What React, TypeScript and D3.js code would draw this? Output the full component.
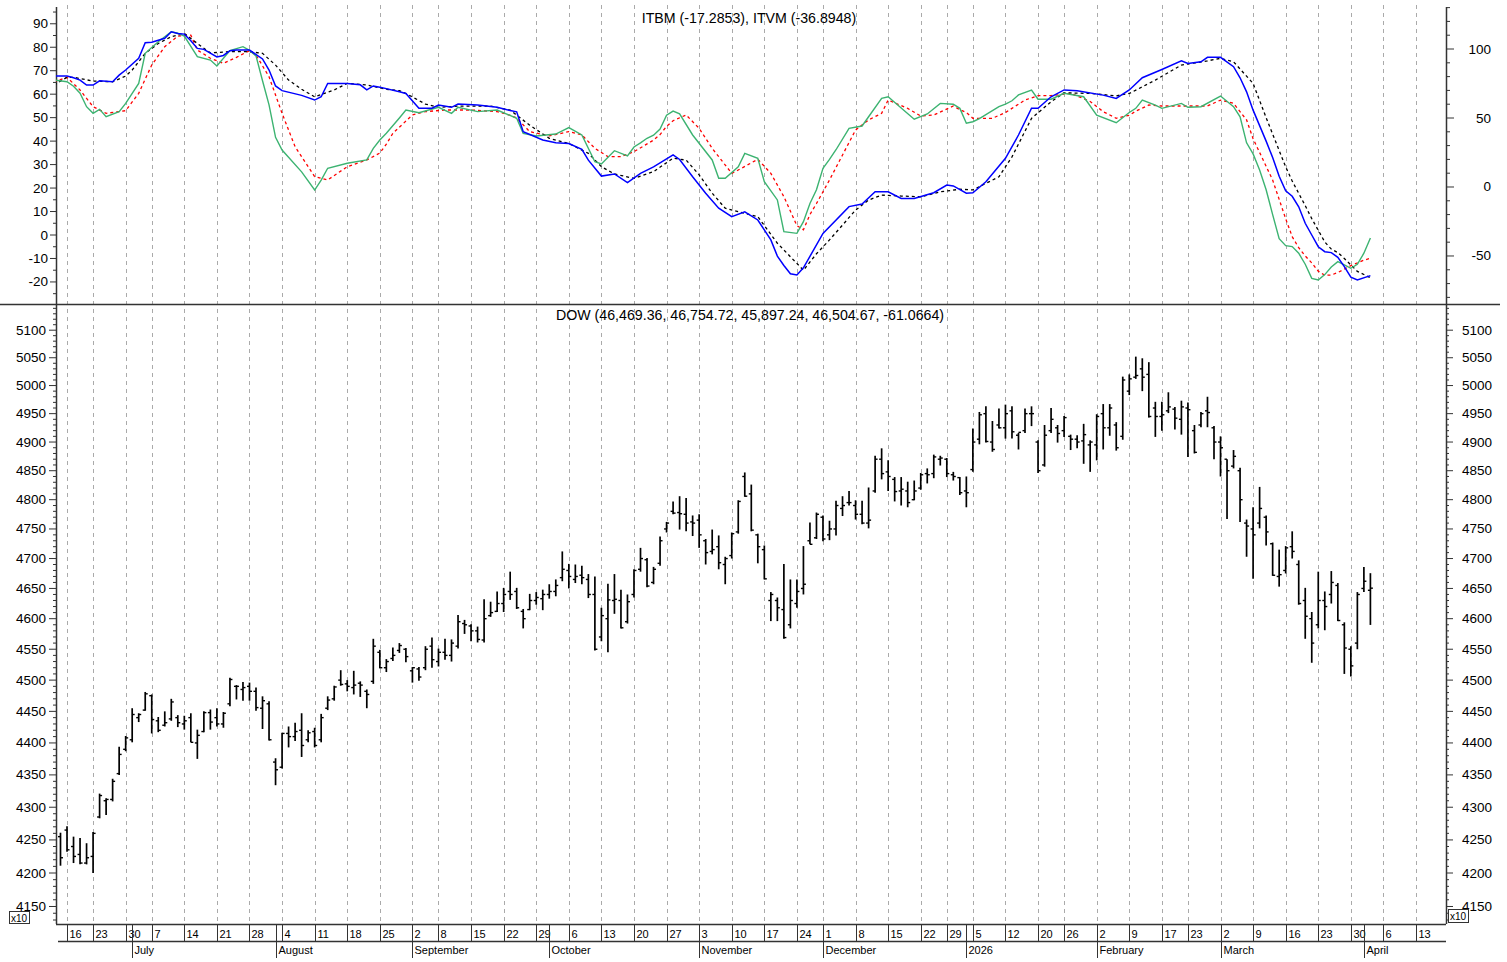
import * as d3 from 'd3';

// DOW daily bars (values shown x10), trading-day index -1 (Jun 13 2025) .. 200 (Apr 2 2026)
const FIRST_BAR = -1;

const opens = [
  4255, 4265, 4240, 4228, 4215, 4225, 4285, 4310, 4312, 4352, 4390, 4405, 4440, 4452, 4475, 4435, 4428, 4438, 4440, 4430,
  4440, 4400, 4418, 4448, 4440, 4430, 4462, 4490, 4485, 4490, 4482, 4455, 4462, 4370, 4362, 4415, 4410, 4420, 4405, 4418,
  4405, 4455, 4470, 4500, 4494, 4488, 4495, 4482, 4498, 4545, 4520, 4535, 4548, 4550, 4515, 4518, 4520, 4555, 4530, 4545,
  4540, 4555, 4592, 4588, 4580, 4565, 4605, 4612, 4625, 4645, 4645, 4612, 4615, 4630, 4633, 4640, 4645, 4668, 4680, 4665,
  4672, 4665, 4640, 4570, 4600, 4630, 4630, 4595, 4640, 4682, 4698, 4660, 4692, 4750, 4780, 4778, 4775, 4762, 4765, 4730,
  4712, 4720, 4690, 4705, 4745, 4840, 4810, 4740, 4715, 4630, 4630, 4615, 4590, 4625, 4650, 4730, 4735, 4770, 4740, 4750,
  4785, 4795, 4790, 4775, 4760, 4815, 4870, 4848, 4835, 4815, 4815, 4800, 4820, 4845, 4845, 4870, 4870, 4843, 4838, 4815,
  4852, 4905, 4950, 4900, 4930, 4925, 4955, 4912, 4920, 4950, 4900, 4860, 4920, 4925, 4920, 4910, 4905, 4902, 4895, 4895,
  4950, 4925, 4930, 4910, 4990, 5015, 5030, 5020, 4960, 4945, 4955, 4958, 4940, 4960, 4920, 4930, 4955, 4925, 4900, 4870,
  4858, 4850, 4760, 4750, 4760, 4770, 4725, 4670, 4680, 4720, 4690, 4630, 4600, 4590, 4630, 4640, 4655, 4590, 4550, 4560,
  4650, 4646.94,
];

const highs = [
  4261, 4271, 4255, 4253, 4245, 4262, 4321, 4314, 4344, 4394, 4411, 4455, 4447, 4481, 4477, 4441, 4450, 4470, 4444, 4443,
  4447, 4421, 4450, 4453, 4455, 4449, 4504, 4492, 4497, 4496, 4488, 4474, 4466, 4376, 4416, 4426, 4432, 4447, 4420, 4424,
  4446, 4474, 4491, 4516, 4500, 4515, 4498, 4485, 4567, 4549, 4534, 4553, 4560, 4552, 4521, 4521, 4555, 4569, 4551, 4567,
  4566, 4606, 4598, 4591, 4587, 4632, 4628, 4645, 4651, 4678, 4651, 4616, 4641, 4644, 4648, 4657, 4665, 4712, 4691, 4690,
  4688, 4674, 4670, 4618, 4658, 4674, 4648, 4640, 4682, 4718, 4701, 4686, 4737, 4762, 4797, 4806, 4803, 4773, 4775, 4733,
  4749, 4739, 4703, 4744, 4799, 4847, 4826, 4742, 4722, 4644, 4635, 4691, 4665, 4665, 4721, 4761, 4778, 4773, 4764, 4798,
  4806, 4815, 4799, 4798, 4821, 4876, 4889, 4868, 4839, 4839, 4831, 4833, 4846, 4854, 4878, 4876, 4872, 4848, 4839, 4840,
  4924, 4953, 4963, 4937, 4959, 4966, 4963, 4916, 4959, 4963, 4903, 4930, 4960, 4930, 4946, 4913, 4912, 4932, 4903, 4949,
  4967, 4967, 4935, 5016, 5020, 5052, 5049, 5042, 4971, 4971, 4988, 4962, 4973, 4970, 4930, 4953, 4980, 4928, 4910, 4870,
  4886, 4855, 4766, 4787, 4822, 4773, 4727, 4715, 4721, 4746, 4697, 4651, 4611, 4678, 4645, 4679, 4659, 4594, 4555, 4644,
  4686, 4675.47,
];

const lows = [
  4211, 4232, 4215, 4213, 4213, 4200, 4283, 4288, 4309, 4350, 4387, 4401, 4433, 4451, 4415, 4417, 4426, 4435, 4425, 4421,
  4401, 4375, 4417, 4421, 4426, 4424, 4458, 4469, 4467, 4467, 4451, 4422, 4404, 4334, 4360, 4393, 4403, 4378, 4401, 4393,
  4401, 4452, 4467, 4491, 4482, 4477, 4473, 4455, 4494, 4519, 4513, 4531, 4544, 4529, 4496, 4499, 4516, 4520, 4522, 4533,
  4530, 4551, 4575, 4563, 4561, 4561, 4603, 4611, 4611, 4631, 4616, 4584, 4614, 4623, 4614, 4633, 4637, 4662, 4650, 4659,
  4657, 4634, 4548, 4563, 4545, 4608, 4584, 4592, 4635, 4678, 4652, 4657, 4688, 4744, 4775, 4749, 4746, 4738, 4718, 4690,
  4707, 4682, 4657, 4700, 4742, 4805, 4746, 4692, 4665, 4596, 4596, 4567, 4584, 4618, 4640, 4724, 4733, 4729, 4731, 4739,
  4772, 4790, 4766, 4758, 4751, 4812, 4835, 4815, 4797, 4790, 4787, 4799, 4817, 4828, 4837, 4859, 4839, 4833, 4808, 4787,
  4848, 4896, 4899, 4883, 4924, 4906, 4906, 4887, 4916, 4928, 4846, 4857, 4916, 4899, 4909, 4886, 4889, 4862, 4848, 4868,
  4887, 4911, 4885, 4904, 4983, 5012, 4990, 4943, 4909, 4920, 4951, 4922, 4913, 4874, 4880, 4926, 4926, 4870, 4840, 4767,
  4854, 4762, 4703, 4666, 4751, 4722, 4671, 4653, 4675, 4700, 4623, 4567, 4528, 4584, 4581, 4625, 4596, 4510, 4506, 4550,
  4644, 4589.72,
];

const closes = [
  4223, 4235, 4225, 4215, 4223, 4260, 4318, 4312, 4340, 4382, 4408, 4445, 4445, 4478, 4437, 4420, 4432, 4465, 4432, 4435,
  4401, 4412, 4448, 4433, 4430, 4447, 4501, 4490, 4488, 4482, 4456, 4467, 4405, 4358, 4415, 4410, 4418, 4396, 4416, 4396,
  4440, 4468, 4489, 4493, 4490, 4492, 4492, 4477, 4555, 4520, 4530, 4540, 4556, 4538, 4520, 4505, 4550, 4533, 4545, 4540,
  4560, 4595, 4590, 4580, 4566, 4600, 4610, 4625, 4640, 4640, 4618, 4600, 4630, 4635, 4640, 4645, 4655, 4682, 4670, 4670,
  4668, 4640, 4550, 4605, 4631, 4632, 4585, 4628, 4680, 4700, 4654, 4682, 4730, 4760, 4777, 4776, 4760, 4760, 4740, 4710,
  4715, 4693, 4700, 4742, 4797, 4806, 4748, 4720, 4666, 4640, 4618, 4569, 4630, 4645, 4657, 4724, 4775, 4733, 4750, 4790,
  4790, 4795, 4775, 4760, 4765, 4870, 4845, 4840, 4814, 4818, 4795, 4815, 4843, 4843, 4874, 4872, 4845, 4840, 4812, 4812,
  4900, 4948, 4901, 4887, 4925, 4950, 4918, 4917, 4950, 4950, 4850, 4912, 4940, 4915, 4943, 4905, 4900, 4913, 4900, 4945,
  4925, 4960, 4890, 5010, 5012, 5018, 5015, 4945, 4945, 4948, 4962, 4942, 4962, 4957, 4882, 4950, 4952, 4900, 4890, 4850,
  4875, 4800, 4755, 4740, 4785, 4745, 4672, 4673, 4718, 4712, 4625, 4604, 4560, 4630, 4620, 4660, 4597, 4552, 4523, 4640,
  4662, 4650.47,
];

// indicator lines: [trading-day index, value]
const itbm: [number, number][] = [
  [-2, 67.7], [0, 67.7], [1, 67], [2, 66], [3, 63.9], [4, 63.9], [5, 65.7], [7, 65.3], [8, 68.1], [9, 70.3],
  [11, 75.3], [12, 81.9], [13, 82.1], [15, 83.8], [16, 86.6], [17, 85.9], [18, 85.6], [19, 82.8], [20, 79.5], [21, 79.1],
  [23, 75.9], [24, 76.5], [25, 78.5], [26, 78.8], [28, 78.8], [30, 75], [31, 70.3], [32, 63.5], [33, 61.5], [36, 59.5],
  [38, 57.5], [39, 58.9], [40, 64.6], [43, 64.6], [45, 64], [46, 61.8], [47, 63.5], [48, 63], [51, 61], [52, 60.3],
  [54, 54], [56, 54], [57, 55.4], [59, 54.4], [60, 55.8], [63, 55.4], [66, 54.4], [68, 53], [69, 52.5], [70, 44],
  [73, 40.5], [75, 39.3], [77, 39], [79, 36.5], [80, 31.9], [82, 25.1], [84, 26], [86, 22.3], [88, 26.3], [90, 29],
  [93, 34.1], [94, 32.2], [96, 24.8], [98, 17.8], [100, 11.4], [102, 7.8], [104, 9.9], [106, 6.4], [108, -2.1], [109, -9],
  [110, -13], [111, -16.5], [112, -17], [113, -14], [116, 0.7], [120, 12.1], [122, 13.2], [124, 18.4], [126, 18.4], [128, 15.6],
  [130, 15.6], [133, 18], [135, 21.3], [136, 20.9], [138, 17.8], [139, 18], [141, 22.7], [144, 32.7], [146, 42.6], [148, 54],
  [149, 54], [151, 58.9], [153, 61.8], [155, 61.5], [159, 59.6], [161, 58.2], [163, 61.8], [165, 67], [168, 70.5], [171, 74.2],
  [172, 73.1], [174, 73.8], [175, 75.7], [177, 75.7], [179, 71.7], [180, 67], [181, 61], [182, 53.2], [184, 40], [185, 33],
  [186, 25], [187, 18.8], [188, 16.5], [189, 12], [190, 5], [191, 0], [192, -5], [193, -7.1], [194, -7.5], [195, -9.5],
  [196, -13.5], [197, -18], [198, -19.2], [200, -17.3],
];

const itbmSignal: [number, number][] = [
  [-2, 63.9], [0, 67.2], [1, 67.2], [4, 65.6], [7, 65.3], [9, 67.7], [10, 70.3], [12, 77.4], [14, 81.6], [16, 84.5],
  [18, 85.9], [20, 81.6], [22, 77.6], [25, 78.1], [28, 78.1], [30, 77.4], [32, 72.4], [34, 66], [36, 62.1], [38, 58.9],
  [41, 61.8], [43, 64.6], [46, 63.9], [49, 62.1], [51, 61.5], [52, 60.3], [55, 55.8], [57, 54.4], [60, 54.9], [65, 54.9],
  [68, 53.2], [71, 46.8], [74, 41.2], [77, 39], [80, 34.8], [82, 29.1], [84, 26], [87, 24.1], [90, 27], [93, 32.7],
  [95, 31.9], [97, 25.6], [99, 17.8], [101, 11.4], [104, 9.2], [106, 7.8], [109, -3.5], [113, -15], [115, -8], [117, -2.1],
  [121, 10.6], [123, 14.9], [125, 17], [128, 16.6], [131, 16.3], [134, 18.4], [137, 19.5], [139, 19.2], [143, 24.8], [145, 33.3],
  [148, 49.7], [151, 56.8], [153, 60.6], [157, 60.3], [161, 59.3], [163, 60.3], [167, 66], [171, 72.4], [175, 74.2], [177, 75.3],
  [179, 73.8], [182, 64.6], [184, 50], [186, 36], [187, 29], [188, 23], [190, 12.5], [191, 7], [192, 2], [193, -3],
  [194, -6], [195, -7.5], [196, -10], [198, -15.5], [200, -18.2],
];

const itvm: [number, number][] = [
  [-2, 77.5], [0, 76.3], [1, 73], [2, 68], [3, 58.2], [4, 53.4], [5, 56.3], [6, 50.9], [8, 54.6], [9, 60.6],
  [11, 75.1], [12, 96.9], [14, 105.3], [16, 112.5], [17, 111.4], [18, 109.4], [20, 94.4], [22, 92], [23, 87.7], [25, 98.8],
  [27, 101.7], [28, 99], [29, 95], [30, 77], [31, 59.5], [32, 36], [33, 26.8], [36, 11], [38, -2.2], [39, 5],
  [40, 13.6], [43, 17.2], [46, 19.6], [47, 28], [48, 34], [49, 38.9], [51, 50], [52, 55.8], [54, 53.8], [57, 57.8],
  [59, 53.4], [60, 57.8], [63, 54.6], [66, 55.8], [69, 49.8], [70, 38.9], [72, 37], [75, 38.4], [77, 43], [79, 37.7],
  [81, 18.3], [82, 16.7], [84, 26.3], [86, 22.5], [87, 29], [88, 32], [89, 35.3], [90, 37.5], [91, 42], [92, 52],
  [93, 55], [94, 53], [96, 37.7], [99, 19.6], [100, 6.3], [101, 6.3], [103, 14.7], [104, 24.4], [106, 20.8], [107, 3.8],
  [109, -9.4], [110, -32.4], [112, -33.6], [113, -25.1], [114, -12], [115, -2], [116, 13.6], [117, 20], [118, 27], [120, 42.5],
  [122, 44.2], [123, 50.9], [125, 64.3], [126, 65.4], [130, 49.1], [132, 52.9], [134, 60.6], [136, 60], [137, 57], [138, 46.2],
  [139, 47.3], [140, 49.5], [143, 58.2], [144, 60], [145, 62.5], [146, 66.7], [148, 70.3], [149, 63.6], [151, 63.6], [153, 67.9],
  [156, 65.4], [158, 52], [161, 46.6], [163, 54], [164, 57], [165, 63], [167, 59.4], [168, 57], [171, 60.6], [172, 57.8],
  [174, 58.2], [177, 65.9], [179, 58.2], [180, 50.9], [181, 32], [182, 24], [183, 12.3], [184, -2], [185, -20], [186, -37.5],
  [187, -42.5], [188, -43.2], [189, -48], [190, -56], [191, -66.2], [192, -67.4], [193, -63.5], [194, -58], [195, -54.1], [196, -56.5],
  [197, -58.9], [198, -56], [199, -48], [200, -36.9],
];

const itvmSignal: [number, number][] = [
  [-2, 76.3], [0, 79.5], [2, 70.3], [4, 58.2], [6, 53.4], [9, 55.3], [11, 67.9], [13, 88.4], [15, 101.7], [17, 109.4],
  [19, 110], [20, 99.3], [22, 93.3], [24, 89.6], [26, 94], [28, 98.8], [29, 95.7], [31, 79.9], [33, 53.4], [35, 29.2],
  [38, 7.5], [40, 5.1], [43, 14.7], [46, 19.6], [48, 24.6], [49, 31], [50, 38.9], [53, 52.2], [55, 54.6], [58, 55.8],
  [62, 55.8], [66, 54.6], [68, 52], [69, 50], [71, 40.1], [74, 37], [77, 40.1], [79, 37.7], [81, 28], [83, 22],
  [85, 22], [87, 25.6], [90, 34], [91, 38], [92, 44], [93, 48], [95, 52.2], [97, 42.5], [99, 28], [102, 9.9],
  [103, 12.3], [106, 20.1], [108, 9.9], [110, -7], [112, -28], [113, -31], [114, -20], [115, -12], [117, 5.1], [119, 23.2],
  [121, 41.3], [123, 48.6], [125, 53.4], [126, 63], [129, 57], [131, 51.4], [133, 52.2], [136, 58.7], [137, 56], [138, 54],
  [139, 49.8], [142, 49.8], [144, 54], [145, 57], [147, 63], [149, 66.2], [151, 66.2], [154, 67.9], [156, 64], [157, 62],
  [159, 54.6], [161, 49.8], [163, 52], [164, 55], [166, 59.4], [168, 58.7], [172, 58.7], [175, 58.7], [177, 63], [179, 60.6],
  [181, 48.6], [182, 35], [183, 25], [184, 15], [185, 5], [186, -9], [187, -23], [188, -36], [189, -44], [190, -50],
  [191, -55], [192, -61], [193, -64], [194, -63.8], [195, -62], [196, -59.5], [197, -57], [199, -53], [200, -51.7],
];

const weekLabels = [
  '16', '23', '30', '7', '14', '21', '28', '4', '11', '18', '25', '2', '8', '15', '22', '29', '6', '13', '20', '27',
  '3', '10', '17', '24', '1', '8', '15', '22', '29', '5', '12', '20', '26', '2', '9', '17', '23', '2', '9', '16',
  '23', '30', '6', '13',
];
const weekDays = [
  0, 4, 9, 13, 18, 23, 28, 33, 38, 43, 48, 53, 57, 62, 67, 72, 77, 82, 87, 92,
  97, 102, 107, 112, 116, 121, 126, 131, 135, 139, 144, 149, 153, 158, 163, 168, 172, 177, 182, 187,
  192, 197, 202, 207,
];
const monthLabels = ['July', 'August', 'September', 'October', 'November', 'December', '2026', 'February', 'March', 'April'];
const monthDays = [10, 32, 53, 74, 97, 116, 138, 158, 177, 199];

const titleTop = 'ITBM (-17.2853), ITVM (-36.8948)';
const titleBottom = 'DOW (46,469.36, 46,754.72, 45,897.24, 46,504.67, -61.0664)';

const W = 1507;
const H = 962;
const L = 56;
const R = 1446;
const TOP = 5;
const MID = 304;
const BOT = 924;
const FONT = "'Liberation Sans', Arial, sans-serif";

export default function App() {
  const x = d3.scaleLinear().domain([-1.69, 211.6]).range([L, R]);
  const yl = d3.scaleLinear().domain([-29.4, 98]).range([MID, TOP]);
  const yr = d3.scaleLinear().domain([-84.8, 131.9]).range([MID, TOP]);
  const yb = d3.scaleLog().domain([4124.1, 5148]).range([BOT, MID]);

  const lineL = d3.line<[number, number]>().x((d) => x(d[0])).y((d) => yl(d[1]));
  const lineR = d3.line<[number, number]>().x((d) => x(d[0])).y((d) => yr(d[1]));

  const tlMajor = d3.range(-20, 91, 10);
  const tlMinor = d3.range(-25, 96, 5).filter((v) => v % 10 !== 0);
  const trMajor = [-50, 0, 50, 100];
  const trMinor = d3.range(-80, 131, 10).filter((v) => v % 50 !== 0);
  const bMajor = d3.range(4150, 5101, 50);
  const bMinor = d3.range(4130, 5141, 10).filter((v) => v % 50 !== 0);

  const axisFont = 13.5;

  return (
    <svg
      width={W}
      height={H}
      style={{ position: 'absolute', left: 0, top: 0, background: '#fff' }}
      fontFamily={FONT}
    >
      <defs>
        <clipPath id="topClip">
          <rect x={L} y={TOP} width={R - L} height={MID - TOP} />
        </clipPath>
      </defs>
      <rect width={W} height={H} fill="#fff" />

      {/* weekly grid */}
      {weekDays.map((d) => (
        <line
          key={'g' + d}
          x1={Math.round(x(d)) + 0.5}
          x2={Math.round(x(d)) + 0.5}
          y1={TOP}
          y2={BOT}
          stroke="#aaa"
          strokeDasharray="4 4"
        />
      ))}

      {/* panel frame */}
      <line x1={0} x2={1500} y1={MID + 0.5} y2={MID + 0.5} stroke="#333" strokeWidth={1.5} />
      <line x1={L + 0.5} x2={L + 0.5} y1={7} y2={BOT} stroke="#333" strokeWidth={1.5} />
      <line x1={R + 0.5} x2={R + 0.5} y1={7} y2={BOT} stroke="#333" strokeWidth={1.5} />

      {/* top panel axes */}
      {tlMajor.map((v) => (
        <g key={'tl' + v}>
          <line x1={L - 6} x2={L} y1={yl(v)} y2={yl(v)} stroke="#333" />
          <text x={48} y={yl(v) + 4.5} textAnchor="end" fontSize={axisFont}>{v}</text>
        </g>
      ))}
      {tlMinor.map((v) => (
        <line key={'tm' + v} x1={L - 3} x2={L} y1={yl(v)} y2={yl(v)} stroke="#333" />
      ))}
      {trMajor.map((v) => (
        <g key={'tr' + v}>
          <line x1={R} x2={R + 8} y1={yr(v)} y2={yr(v)} stroke="#333" />
          <text x={1491} y={yr(v) + 4.5} textAnchor="end" fontSize={axisFont}>{v}</text>
        </g>
      ))}
      {trMinor.map((v) => (
        <line key={'trm' + v} x1={R} x2={R + 4} y1={yr(v)} y2={yr(v)} stroke="#333" />
      ))}

      {/* bottom panel axes */}
      {bMajor.map((v) => (
        <g key={'b' + v}>
          <line x1={L - 7} x2={L} y1={yb(v)} y2={yb(v)} stroke="#333" />
          <line x1={R} x2={R + 7} y1={yb(v)} y2={yb(v)} stroke="#333" />
          <text x={46} y={yb(v) + 4.5} textAnchor="end" fontSize={axisFont}>{v}</text>
          <text x={1492} y={yb(v) + 4.5} textAnchor="end" fontSize={axisFont}>{v}</text>
        </g>
      ))}
      {bMinor.map((v) => (
        <g key={'bm' + v}>
          <line x1={L - 3} x2={L} y1={yb(v)} y2={yb(v)} stroke="#333" />
          <line x1={R} x2={R + 3} y1={yb(v)} y2={yb(v)} stroke="#333" />
        </g>
      ))}

      {/* titles */}
      <text x={749} y={22.5} textAnchor="middle" fontSize={14.2}>{titleTop}</text>
      <text x={750} y={320} textAnchor="middle" fontSize={14.2}>{titleBottom}</text>

      {/* indicator lines */}
      <g clipPath="url(#topClip)" fill="none">
        <path d={lineR(itvmSignal) || ''} stroke="#ff0000" strokeWidth={1.3} strokeDasharray="3 3" />
        <path d={lineL(itbmSignal) || ''} stroke="#000" strokeWidth={1.3} strokeDasharray="3 3" />
        <path d={lineR(itvm) || ''} stroke="#3cb371" strokeWidth={1.4} />
        <path d={lineL(itbm) || ''} stroke="#0000ff" strokeWidth={1.5} />
      </g>

      {/* OHLC bars */}
      <g stroke="#000">
        {closes.map((c, k) => {
          const cx = x(k + FIRST_BAR);
          return (
            <g key={'bar' + k}>
              <line x1={cx} x2={cx} y1={yb(highs[k])} y2={yb(lows[k])} strokeWidth={1.7} />
              <line x1={cx - 2.5} x2={cx} y1={yb(opens[k])} y2={yb(opens[k])} strokeWidth={1.4} />
              <line x1={cx} x2={cx + 2.5} y1={yb(c)} y2={yb(c)} strokeWidth={1.4} />
            </g>
          );
        })}
      </g>

      {/* date axis */}
      <line x1={L} x2={R} y1={BOT + 0.5} y2={BOT + 0.5} stroke="#333" strokeWidth={1.5} />
      <line x1={58} x2={R} y1={941.5} y2={941.5} stroke="#333" strokeWidth={1.5} />
      {weekDays.map((d, k) => {
        const wx = Math.round(x(d)) + 0.5;
        return (
          <g key={'w' + k}>
            <line x1={wx} x2={wx} y1={BOT} y2={941} stroke="#333" />
            <text x={wx + 2} y={937.5} fontSize={11}>{weekLabels[k]}</text>
          </g>
        );
      })}
      {monthDays.map((d, k) => {
        const mx = Math.round(x(d)) + 0.5;
        return (
          <g key={'m' + k}>
            <line x1={mx} x2={mx} y1={BOT} y2={958} stroke="#333" />
            <text x={mx + 2} y={954} fontSize={11}>{monthLabels[k]}</text>
          </g>
        );
      })}

      {/* x10 multipliers */}
      <rect x={9.5} y={911.5} width={20} height={12} fill="#fff" stroke="#333" />
      <text x={11} y={921.5} fontSize={10}>x10</text>
      <rect x={1448.5} y={909.5} width={20} height={13} fill="#fff" stroke="#333" />
      <text x={1450} y={920} fontSize={10}>x10</text>
    </svg>
  );
}
